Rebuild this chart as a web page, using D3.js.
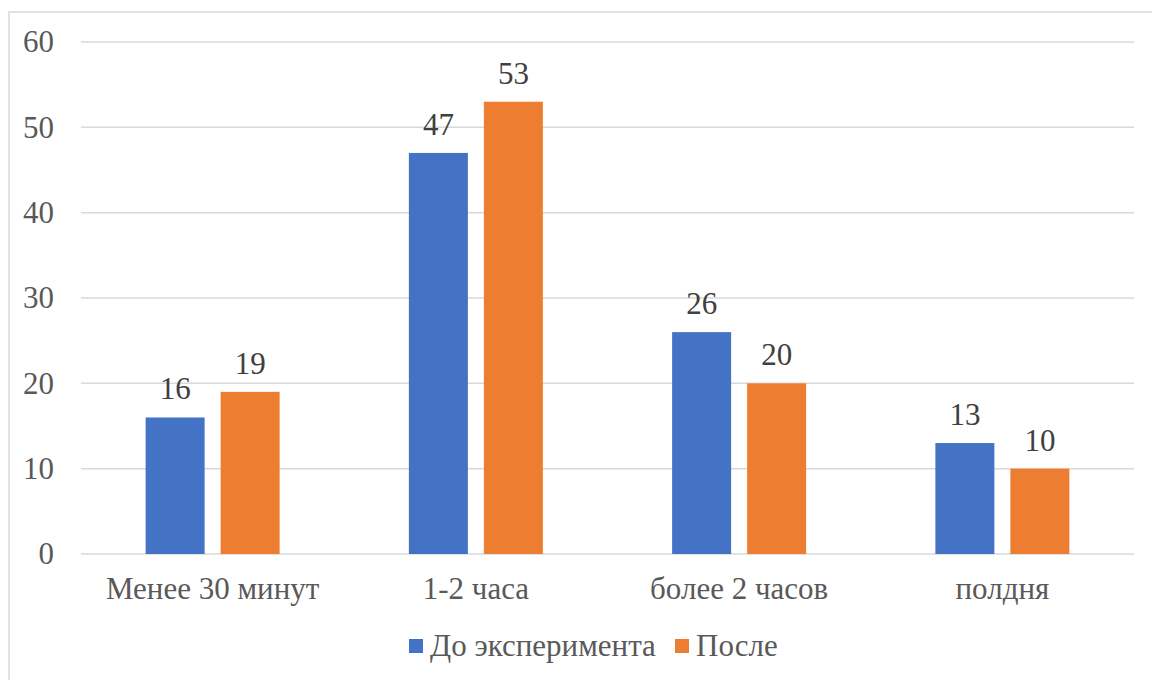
<!DOCTYPE html>
<html>
<head>
<meta charset="utf-8">
<script src="https://cdn.jsdelivr.net/npm/d3@7"></script>
<style>
  html, body { margin: 0; padding: 0; background: #fff; }
  svg { display: block; }
</style>
</head>
<body>
<svg id="chart" width="1152" height="680" font-family="Liberation Serif"></svg>
<script>
// Categories, series and axis ticks
const categories = ["Менее 30 минут", "1-2 часа", "более 2 часов", "полдня"];
const seriesNames = ["До эксперимента", "После"];
const beforeValues = [16, 47, 26, 13];
const afterValues = [19, 53, 20, 10];
const yTicks = [0, 10, 20, 30, 40, 50, 60];
const colors = ["#4472C4", "#ED7D31"];

const FONT = "Liberation Serif";
const svg = d3.select("#chart");
const W = 1152, H = 680;
const plot = { left: 81, right: 1134, top: 42, bottom: 554 };

// Chart frame
svg.append("rect")
  .attr("x", 9).attr("y", 12)
  .attr("width", W).attr("height", H)
  .attr("fill", "#fff")
  .attr("stroke", "#d9d9d9").attr("stroke-width", 1.5);

const x = d3.scaleBand().domain(categories).range([plot.left, plot.right]);
const y = d3.scaleLinear().domain([0, 60]).range([plot.bottom, plot.top]);
const barW = 59, gap = 16;
const xs = d3.scaleBand().domain(seriesNames)
  .range([0, 2 * barW + gap]).paddingInner(gap / (barW + gap));

// Gridlines
svg.append("g").selectAll("line").data(yTicks).join("line")
  .attr("x1", plot.left).attr("x2", plot.right)
  .attr("y1", d => y(d)).attr("y2", d => y(d))
  .attr("stroke", "#d9d9d9").attr("stroke-width", 1.5);

// Y axis labels
const yAxis = svg.append("g")
  .attr("transform", `translate(${plot.left},0)`)
  .call(d3.axisLeft(y).tickValues(yTicks).tickSize(0).tickPadding(27))
  .attr("font-family", FONT).attr("font-size", 31);
yAxis.select(".domain").remove();
yAxis.selectAll("text").attr("fill", "#595959");

// X axis labels
const xAxis = svg.append("g")
  .attr("transform", `translate(0,${plot.bottom})`)
  .call(d3.axisBottom(x).tickSize(0).tickPadding(23))
  .attr("font-family", FONT).attr("font-size", 31);
xAxis.select(".domain").remove();
xAxis.selectAll("text").attr("fill", "#595959");

const rows = categories.map((c, i) => ({
  cat: c,
  vals: [
    { s: seriesNames[0], v: beforeValues[i], c: colors[0] },
    { s: seriesNames[1], v: afterValues[i], c: colors[1] }
  ]
}));

const groups = svg.append("g").selectAll("g").data(rows).join("g")
  .attr("transform", d => `translate(${x(d.cat) + (x.bandwidth() - (2 * barW + gap)) / 2},0)`);

groups.selectAll("rect").data(d => d.vals).join("rect")
  .attr("x", d => xs(d.s))
  .attr("width", xs.bandwidth())
  .attr("y", d => y(d.v))
  .attr("height", d => y(0) - y(d.v))
  .attr("fill", d => d.c);

groups.selectAll("text").data(d => d.vals).join("text")
  .attr("x", d => xs(d.s) + xs.bandwidth() / 2)
  .attr("y", d => y(d.v) - 18)
  .attr("text-anchor", "middle")
  .attr("font-family", FONT)
  .attr("font-size", 31).attr("fill", "#404040")
  .text(d => d.v);

// Legend
const legend = svg.append("g").attr("transform", "translate(409,639)");
const items = [
  { name: seriesNames[0], c: colors[0], dx: 0 },
  { name: seriesNames[1], c: colors[1], dx: 266 }
];
const li = legend.selectAll("g").data(items).join("g")
  .attr("transform", d => `translate(${d.dx},0)`);
li.append("rect").attr("width", 14).attr("height", 14).attr("fill", d => d.c);
li.append("text").attr("x", 21).attr("y", 17)
  .attr("font-family", FONT)
  .attr("font-size", 31).attr("fill", "#595959")
  .text(d => d.name);
</script>
</body>
</html>
